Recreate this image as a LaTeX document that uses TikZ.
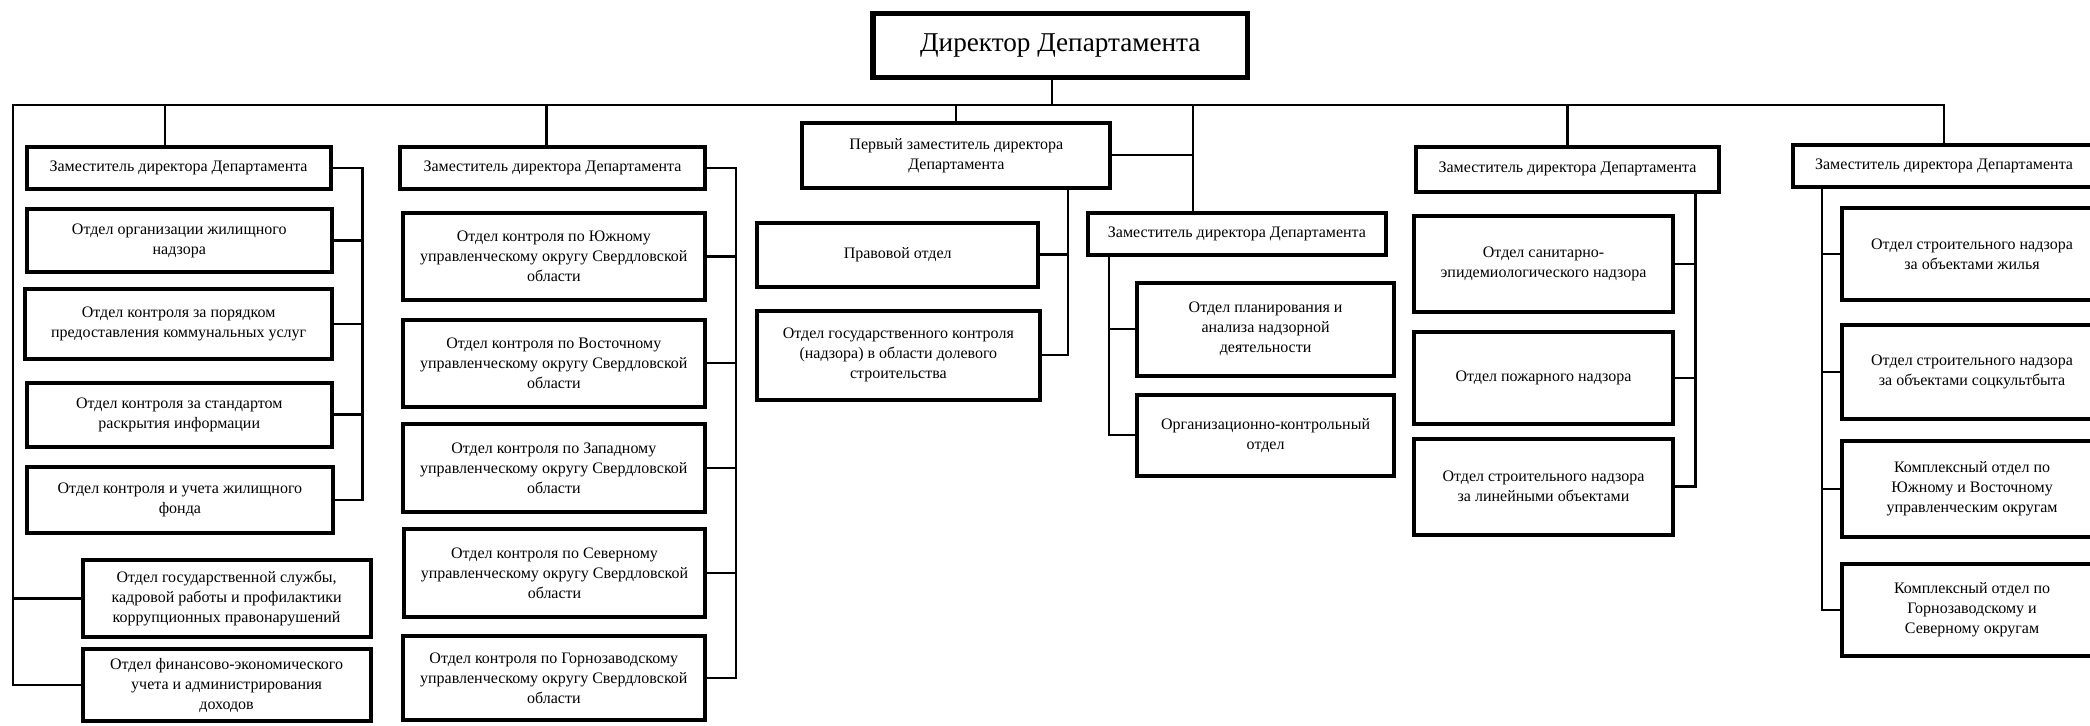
\documentclass[tikz,border=0pt]{standalone}
\usepackage{fontspec}
\setmainfont{Liberation Serif}
\begin{document}
\begin{tikzpicture}[x=0.6667pt,y=-0.6667pt,
  box/.style={draw, line width=2pt, fill=white, align=center, inner sep=1pt,
    font=\fontsize{8}{10}\selectfont},
  dirbox/.style={draw, line width=2.6pt, fill=white, align=center, inner sep=1pt,
    font=\fontsize{13.6}{16}\selectfont},
  conn/.style={line width=1.1pt}]
\useasboundingbox (0,0) rectangle (1568,544);
\fill[white] (0,0) rectangle (1568,544);
\clip (0,0) rectangle (1568,544);
\newcommand\bx[7][box]{%
  \pgfmathsetmacro\bw{(#5-#3)*0.6667}%
  \pgfmathsetmacro\bh{(#6-#4)*0.6667}%
  \node[#1, minimum width=\bw pt, minimum height=\bh pt] (#2) at ({(#3+#5)/2},{(#4+#6)/2}) {#7};}
% director
\bx[dirbox]{dir}{655}{10}{936}{58}{Директор Департамента}
% column 1
\bx{Z1}{20}{110}{248}{142}{Заместитель директора Департамента}
\bx{A1}{20}{157}{249}{204}{Отдел организации жилищного\\надзора}
\bx{A2}{19}{217}{249}{269}{Отдел контроля за порядком\\предоставления коммунальных услуг}
\bx{A3}{20}{287}{249}{335}{Отдел контроля за стандартом\\раскрытия информации}
\bx{A4}{20}{350}{250}{400}{Отдел контроля и учета жилищного\\фонда}
\bx{B1}{62}{420}{278}{478}{Отдел государственной службы,\\кадровой работы и профилактики\\коррупционных правонарушений}
\bx{B2}{62}{487}{278}{541}{Отдел финансово-экономического\\учета и администрирования\\доходов}
% column 2
\bx{Z2}{300}{110}{529}{142}{Заместитель директора Департамента}
\bx{C1}{302}{160}{529}{225}{Отдел контроля по Южному\\управленческому округу Свердловской\\области}
\bx{C2}{302}{240}{529}{305}{Отдел контроля по Восточному\\управленческому округу Свердловской\\области}
\bx{C3}{302}{318}{529}{384}{Отдел контроля по Западному\\управленческому округу Свердловской\\области}
\bx{C4}{303}{397}{529}{463}{Отдел контроля по Северному\\управленческому округу Свердловской\\области}
\bx{C5}{302}{477}{529}{540}{Отдел контроля по Горнозаводскому\\управленческому округу Свердловской\\области}
% column 3
\bx{P}{602}{92}{833}{141}{Первый заместитель директора\\Департамента}
\bx{D1}{568}{167}{779}{215}{Правовой отдел}
\bx{D2}{568}{233}{780}{300}{Отдел государственного контроля\\(надзора) в области долевого\\строительства}
% column 4
\bx{Z3}{816}{160}{1040}{191}{Заместитель директора Департамента}
\bx{E1}{853}{212}{1046}{282}{Отдел планирования и\\анализа надзорной\\деятельности}
\bx{E2}{853}{296}{1046}{357}{Организационно-контрольный\\отдел}
% column 5
\bx{Z4}{1062}{110}{1290}{144}{Заместитель директора Департамента}
\bx{F1}{1061}{162}{1255}{234}{Отдел санитарно-\\эпидемиологического надзора}
\bx{F2}{1061}{249}{1255}{318}{Отдел пожарного надзора}
\bx{F3}{1061}{329}{1255}{401}{Отдел строительного надзора\\за линейными объектами}
% column 6
\bx{Z5}{1345}{109}{1572}{140}{Заместитель директора Департамента}
\bx{G1}{1382}{156}{1577}{225}{Отдел строительного надзора\\за объектами жилья}
\bx{G2}{1382}{244}{1577}{314}{Отдел строительного надзора\\за объектами соцкультбыта}
\bx{G3}{1382}{331}{1577}{403}{Комплексный отдел по\\Южному и Восточному\\управленческим округам}
\bx{G4}{1382}{423}{1577}{492}{Комплексный отдел по\\Горнозаводскому и\\Северному округам}
% junction coordinates
\coordinate (busL) at (10,79);
\coordinate (jd) at (789,79);
\coordinate (j1) at (124,79);
\coordinate (j2) at (410,79);
\coordinate (j3) at (895,79);
\coordinate (k1) at (272,0);
\coordinate (k2) at (552,0);
\coordinate (k3) at (801,0);
\coordinate (k4) at (832,0);
\coordinate (k5) at (1272,0);
\coordinate (k6) at (1367,0);
% main bus
\draw[conn] (B2.west) -| (busL) -| (Z5.north);
\draw[conn] (B1.west) -- (B1.west -| busL);
\draw[conn] (jd |- dir.south) -- (jd);
\draw[conn] (j1) -- (j1 |- Z1.north);
\draw[conn] (j2) -- (j2 |- Z2.north);
\draw[conn] (P.north |- busL) -- (P.north);
\draw[conn] (j3) -- (j3 |- Z3.north);
\draw[conn] (Z4.north |- busL) -- (Z4.north);
\draw[conn] (P.east) -- (P.east -| j3);
% brackets
\draw[conn] (Z1.east) -| (k1 |- A4.east) -- (A4.east);
\foreach \n in {A1,A2,A3} \draw[conn] (\n.east) -- (\n.east -| k1);
\draw[conn] (Z2.east) -| (k2 |- C5.east) -- (C5.east);
\foreach \n in {C1,C2,C3,C4} \draw[conn] (\n.east) -- (\n.east -| k2);
\draw[conn] (k3 |- P.south) |- (D2.east);
\draw[conn] (D1.east) -- (D1.east -| k3);
\draw[conn] (k4 |- Z3.south) |- (E2.west);
\draw[conn] (E1.west) -- (E1.west -| k4);
\draw[conn] (k5 |- Z4.south) |- (F3.east);
\foreach \n in {F1,F2} \draw[conn] (\n.east) -- (\n.east -| k5);
\draw[conn] (k6 |- Z5.south) |- (G4.west);
\foreach \n in {G1,G2,G3} \draw[conn] (\n.west) -- (\n.west -| k6);
\end{tikzpicture}
\end{document}
